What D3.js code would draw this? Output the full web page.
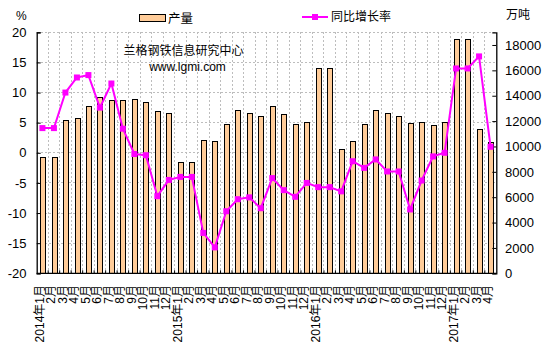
<!DOCTYPE html>
<html><head><meta charset="utf-8">
<script src="https://cdn.jsdelivr.net/npm/d3@7"></script>
<style>
body{margin:0;background:#fff;}
text{font-family:"Liberation Sans",Arial,"Noto Sans CJK SC",sans-serif;fill:#000;}
</style></head><body>
<svg id="c" width="549" height="352"></svg>
<script>
const months = ["2014年1月","2月","3月","4月","5月","6月","7月","8月","9月","10月","11月","12月",
"2015年1月","2月","3月","4月","5月","6月","7月","8月","9月","10月","11月","12月",
"2016年1月","2月","3月","4月","5月","6月","7月","8月","9月","10月","11月","12月",
"2017年1月","2月","3月","4月"];
const production = [9150,9150,12070,12220,13190,13880,13640,13640,13720,13490,12780,12620,
8780,8780,10490,10410,11750,12860,12620,12380,13190,12540,11750,11910,
16170,16170,9780,10410,11750,12860,12620,12380,11830,11910,11670,11910,
18450,18450,11360,10330];
const yoy = [4.1,4.1,10.0,12.5,12.9,7.5,11.5,4.0,-0.2,-0.4,-7.2,-4.5,
-4.0,-4.0,-13.3,-15.7,-9.7,-7.7,-7.4,-9.2,-4.2,-6.2,-7.3,-5.0,
-5.7,-5.7,-6.4,-1.4,-2.5,-1.1,-3.1,-3.1,-9.4,-4.6,-0.6,0.0,
14.0,14.0,16.0,1.0];
const leftTicks = [20,15,10,5,0,-5,-10,-15,-20];
const rightTicks = [0,2000,4000,6000,8000,10000,12000,14000,16000,18000];

const svg = d3.select("#c");
const L = 36.7, R = 496.3, T = 32.3, B = 273.3;
const x = d3.scaleBand().domain(d3.range(months.length)).range([L, R]).paddingInner(0).paddingOuter(0);
const yL = d3.scaleLinear().domain([-20, 20]).range([B, T]);
const yR = d3.scaleLinear().domain([0, 19000]).range([B, T]);
const bw = x.bandwidth();
const barW = bw * 0.42;

// gridlines
const g = svg.append("g");
g.selectAll("line.h").data(leftTicks.filter(d => d > -20)).join("line")
  .attr("x1", L).attr("x2", R).attr("y1", d => yL(d)).attr("y2", d => yL(d))
  .attr("stroke", "#bdbdbd").attr("stroke-dasharray", "2,2").attr("shape-rendering","crispEdges");
g.selectAll("line.v").data(d3.range(1, months.length)).join("line")
  .attr("x1", d => L + d * bw).attr("x2", d => L + d * bw).attr("y1", T).attr("y2", B)
  .attr("stroke", "#bdbdbd").attr("stroke-dasharray", "2,2").attr("shape-rendering","crispEdges");

// bars
svg.append("g").selectAll("rect").data(production).join("rect")
  .attr("x", (d, i) => Math.round(x(i) + bw / 2 - barW / 2) + 0.5)
  .attr("y", d => Math.round(yR(d)) + 0.5)
  .attr("width", Math.round(barW))
  .attr("height", d => Math.round(B) - Math.round(yR(d)))
  .attr("fill", "#ffcc99").attr("stroke", "#000").attr("stroke-width", 1);

// axes
const axL = svg.append("g").attr("transform", `translate(${L},0)`)
  .call(d3.axisRight(yL).tickValues(leftTicks).tickSize(4).tickFormat(""));
const axR = svg.append("g").attr("transform", `translate(${R},0)`)
  .call(d3.axisLeft(yR).tickValues(rightTicks).tickSize(4).tickFormat(""));
[axL, axR].forEach(a => { a.select(".domain").attr("stroke", "#000").attr("stroke-width", 1.3); a.selectAll(".tick line").attr("stroke", "#000"); });

svg.append("line").attr("x1", L).attr("x2", R).attr("y1", B).attr("y2", B).attr("stroke", "#000").attr("stroke-width", 1.3);
svg.append("g").selectAll("line").data(d3.range(1, months.length)).join("line")
  .attr("x1", d => L + d * bw).attr("x2", d => L + d * bw).attr("y1", B).attr("y2", B - 3)
  .attr("stroke", "#000");

// tick labels
svg.append("g").selectAll("text").data(leftTicks).join("text")
  .attr("x", 26.5).attr("y", d => yL(d)).attr("dy", "0.36em").attr("text-anchor", "end")
  .attr("font-size", 13).text(d => d);
svg.append("g").selectAll("text").data(rightTicks).join("text")
  .attr("x", 505).attr("y", d => yR(d)).attr("dy", "0.36em").attr("text-anchor", "start")
  .attr("font-size", 13).text(d => d);

// x labels
svg.append("g").selectAll("text").data(months).join("text")
  .attr("transform", (d, i) => `translate(${x(i) + bw / 2 + 1.5},285) rotate(-90)`)
  .attr("text-anchor", "end").attr("font-size", 12).text(d => d);

// line
const line = d3.line().x((d, i) => x(i) + bw / 2).y(d => yL(d));
svg.append("path").datum(yoy).attr("d", line).attr("fill", "none")
  .attr("stroke", "#ff00ff").attr("stroke-width", 2);
svg.append("g").selectAll("rect").data(yoy).join("rect")
  .attr("x", (d, i) => x(i) + bw / 2 - 3).attr("y", d => yL(d) - 3)
  .attr("width", 6).attr("height", 6).attr("fill", "#ff00ff");

// legend
svg.append("rect").attr("x", 139.5).attr("y", 14.5).attr("width", 26).attr("height", 7)
  .attr("fill", "#ffcc99").attr("stroke", "#000");
svg.append("text").attr("x", 168).attr("y", 18).attr("dy", "0.36em").attr("font-size", 12.5).text("产量");
svg.append("line").attr("x1", 302).attr("x2", 328).attr("y1", 17).attr("y2", 17).attr("stroke", "#ff00ff").attr("stroke-width", 2);
svg.append("rect").attr("x", 312).attr("y", 14).attr("width", 6).attr("height", 6).attr("fill", "#ff00ff");
svg.append("text").attr("x", 331).attr("y", 17).attr("dy", "0.36em").attr("font-size", 12).text("同比增长率");

// axis titles
svg.append("text").attr("x", 16).attr("y", 16).attr("dy", "0.36em").attr("font-size", 12).text("%");
svg.append("text").attr("x", 506).attr("y", 15).attr("dy", "0.36em").attr("font-size", 12).text("万吨");

// watermark
svg.append("text").attr("x", 183.5).attr("y", 50.5).attr("dy", "0.36em").attr("text-anchor", "middle").attr("font-size", 12).text("兰格钢铁信息研究中心");
svg.append("text").attr("x", 187.5).attr("y", 66.7).attr("dy", "0.36em").attr("text-anchor", "middle").attr("font-size", 12).text("www.lgmi.com");
</script></body></html>
